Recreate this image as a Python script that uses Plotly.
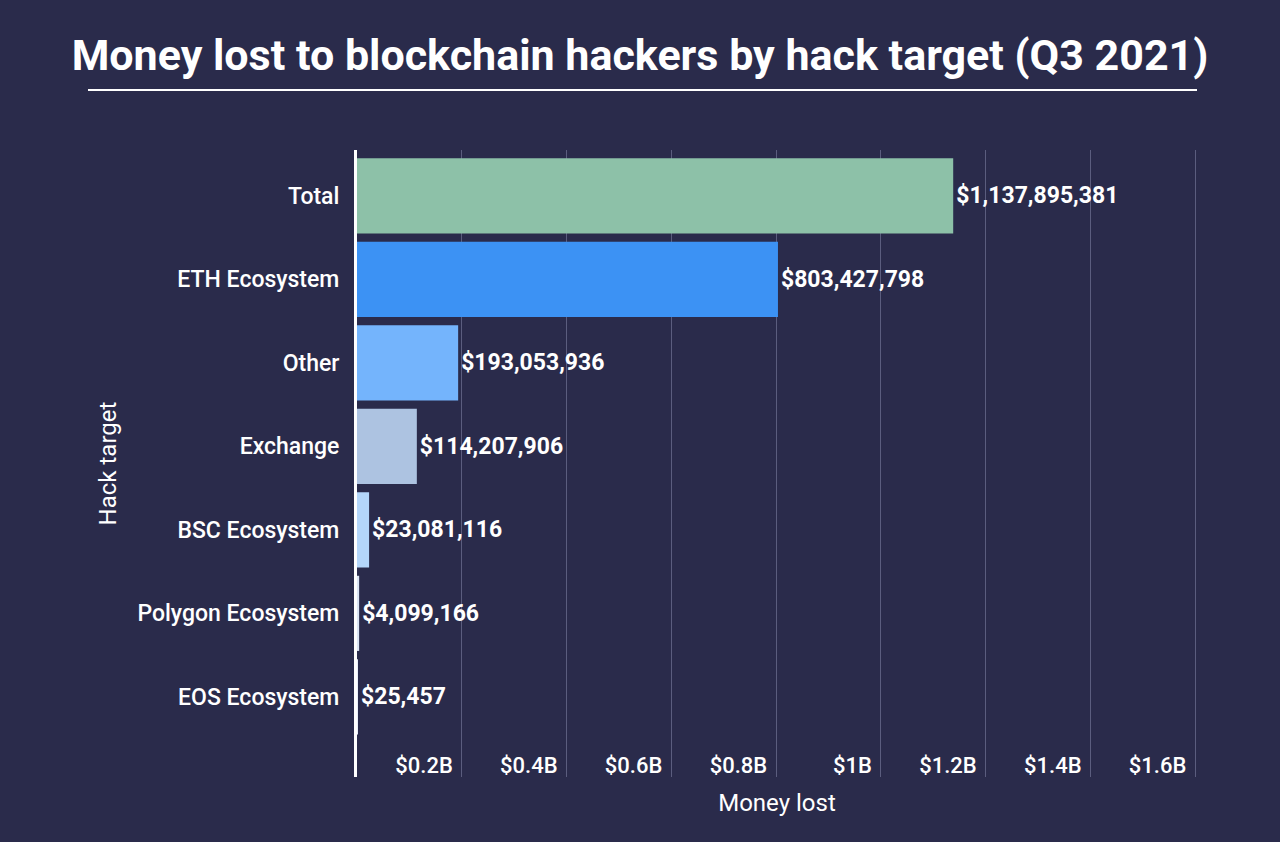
import plotly.graph_objects as go

# Data
targets = ["Total", "ETH Ecosystem", "Other", "Exchange",
           "BSC Ecosystem", "Polygon Ecosystem", "EOS Ecosystem"]
money_lost = [1137895381, 803427798, 193053936, 114207906,
              23081116, 4099166, 25457]
bar_colors = ["#8dc1a8", "#3c92f4", "#74b4fc", "#adc3e1",
              "#b4d6fa", "#dce6f5", "#e8eef8"]
tick_vals = [0.2e9, 0.4e9, 0.6e9, 0.8e9, 1.0e9, 1.2e9, 1.4e9, 1.6e9]
tick_text = ["$0.2B", "$0.4B", "$0.6B", "$0.8B", "$1B", "$1.2B", "$1.4B", "$1.6B"]

bg = "#2a2b4b"
font_family = "Roboto, 'Open Sans', sans-serif"

fig = go.Figure()

fig.add_trace(go.Bar(
    x=money_lost,
    y=targets,
    orientation="h",
    marker=dict(color=bar_colors, line=dict(width=0)),
    text=["${:,}".format(v) for v in money_lost],
    textposition="outside",
    constraintext="none",
    cliponaxis=False,
    textfont=dict(color="white", size=23, family=font_family, weight=700),
    showlegend=False,
    hoverinfo="skip",
))

fig.update_layout(
    width=1280,
    height=842,
    paper_bgcolor=bg,
    plot_bgcolor=bg,
    margin=dict(l=357, r=83, t=150, b=65),
    bargap=0.1,
    font=dict(family=font_family, color="white"),
    title=dict(
        text="<b>Money lost to blockchain hackers by hack target (Q3 2021)</b>",
        x=0.5, xanchor="center",
        y=1 - 55 / 842, yanchor="middle",
        yref="container",
        font=dict(size=43, color="white", family=font_family),
    ),
    shapes=[dict(
        type="line", xref="paper", yref="paper",
        x0=(88 - 357) / 840, x1=1.0,
        y0=1 + 60 / 627, y1=1 + 60 / 627,
        line=dict(color="white", width=2),
    )],
)

fig.update_xaxes(
    range=[0, 1.6e9 * 1.002],
    tickvals=tick_vals,
    ticktext=tick_text,
    ticklabelposition="inside left",
    ticklabelshift=-9,
    ticklabelstandoff=-6,
    tickfont=dict(size=22, color="white", weight=500),
    showgrid=True,
    gridcolor="#5b5d7e",
    gridwidth=1,
    zeroline=False,
    showline=False,
    title=dict(text="Money lost", font=dict(size=24, color="white"), standoff=17),
)

fig.update_yaxes(
    categoryorder="array",
    categoryarray=targets,
    range=[6.96, -0.55],
    tickfont=dict(size=23, color="white", weight=500),
    ticks="outside",
    ticklen=10,
    tickcolor="rgba(0,0,0,0)",
    showgrid=False,
    zeroline=False,
    showline=True,
    linecolor="white",
    linewidth=3,
    title=dict(text="Hack target", font=dict(size=24, color="white"), standoff=15),
)

fig.write_html("out.html", config={"displayModeBar": False},
               post_script="document.body.style.margin='0';")
